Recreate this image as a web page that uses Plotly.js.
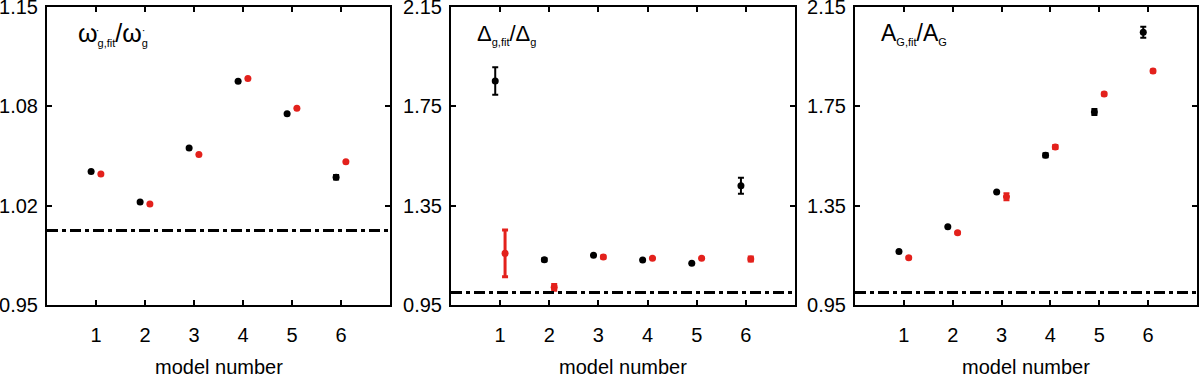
<!DOCTYPE html>
<html>
<head>
<meta charset="utf-8">
<script src="https://cdn.plot.ly/plotly-3.0.1.min.js"></script>
<style>html,body{margin:0;padding:0;background:#fff}#chart{width:1200px;height:381px}</style>
</head>
<body>
<div id="chart"></div>
<script>
// ---- data ----
const models = [1, 2, 3, 4, 5, 6];
const xTickLabels = ['1', '2', '3', '4', '5', '6'];

// panel 1: omega'_g,fit / omega'_g
const p1Black = [1.0396, 1.0192, 1.0553, 1.1002, 1.0784, 1.0357];
const p1BlackErr = [0, 0, 0, 0, 0, 0.0015];
const p1Red = [1.0380, 1.0178, 1.0510, 1.1020, 1.0820, 1.0461];
const p1RedErr = [0, 0, 0, 0, 0, 0];

// panel 2: Delta_g,fit / Delta_g
const p2Black = [1.852, 1.132, 1.150, 1.131, 1.118, 1.430];
const p2BlackErr = [0.055, 0.006, 0, 0, 0, 0.032];
const p2Red = [1.158, 1.021, 1.143, 1.138, 1.138, 1.135];
const p2RedErr = [0.094, 0.012, 0.004, 0, 0, 0.008];

// panel 3: A_G,fit / A_G
const p3Black = [1.165, 1.265, 1.405, 1.553, 1.727, 2.048];
const p3BlackErr = [0, 0, 0, 0.008, 0.012, 0.022];
const p3Red = [1.140, 1.241, 1.386, 1.586, 1.800, 1.892];
const p3RedErr = [0.004, 0.004, 0.014, 0.008, 0.006, 0.006];

const p1TickVals = [0.95, 1.0166667, 1.0833333, 1.15];
const p1TickText = ['0.95', '1.02', '1.08', '1.15'];
const p23TickVals = [0.95, 1.35, 1.75, 2.15];
const p23TickText = ['0.95', '1.35', '1.75', '2.15'];
const refLine = 1.0;

const S = s => '<sub><span style="font-size:11px">' + s + '</span></sub>';
const panelTitles = [
  'ω' + S('g,fit') + '/ω' + S('g'),
  'Δ' + S('g,fit') + '/Δ' + S('g'),
  'A' + S('G,fit') + '/A' + S('G')
];
const dotMark = '˙';
const xTitle = 'model number';

// ---- styles ----
const RED = '#e3211c';
const BLACK = '#000000';
const OFF = 0.1;
const FONT = 'Liberation Sans, Arial, Helvetica, sans-serif';

function series(vals, errs, color, dx, ax, thick) {
  return {
    type: 'scatter', mode: 'markers',
    x: models.map(m => m + dx), y: vals,
    xaxis: 'x' + ax, yaxis: 'y' + ax,
    marker: {color: color, size: 7},
    error_y: {type: 'data', array: errs, visible: true, color: color, thickness: thick, width: 3},
    showlegend: false, hoverinfo: 'skip'
  };
}

const data = [
  series(p1Black, p1BlackErr, BLACK, -OFF, '', 2),
  series(p1Red, p1RedErr, RED, OFF, '', 2),
  series(p2Black, p2BlackErr, BLACK, -OFF, '2', 2),
  series(p2Red, p2RedErr, RED, OFF, '2', 3),
  series(p3Black, p3BlackErr, BLACK, -OFF, '3', 2),
  series(p3Red, p3RedErr, RED, OFF, '3', 2)
];

const W = 1200, H = 381;
const xDomains = [[47 / W, 390 / W], [451 / W, 795 / W], [855 / W, 1197 / W]];
const yDomain = [1 - 305 / H, 1 - 7 / H];

function xAxis(i) {
  return {
    domain: xDomains[i], range: [0, 7], anchor: i === 0 ? 'y' : 'y' + (i + 1),
    tickvals: models, ticktext: xTickLabels,
    ticks: 'inside', ticklen: 5, tickwidth: 2, tickcolor: '#000',
    showline: true, linewidth: 2, linecolor: '#000', mirror: 'ticks',
    showgrid: false, zeroline: false,
    ticklabelstandoff: 11, ticklabeloverflow: 'allow',
    tickfont: {family: FONT, size: 20, color: '#000'},
    fixedrange: true
  };
}
function yAxis(i, range, tv, tt) {
  return {
    domain: yDomain, range: range, anchor: i === 0 ? 'x' : 'x' + (i + 1),
    tickvals: tv, ticktext: tt,
    ticks: 'inside', ticklen: 5, tickwidth: 2, tickcolor: '#000',
    showline: true, linewidth: 2, linecolor: '#000', mirror: 'ticks',
    showgrid: false, zeroline: false,
    ticklabelstandoff: 3, ticklabeloverflow: 'allow',
    tickfont: {family: FONT, size: 20, color: '#000'},
    fixedrange: true
  };
}

const shapes = ['x', 'x2', 'x3'].map((xa, i) => ({
  type: 'line', xref: xa + ' domain', yref: (i === 0 ? 'y' : 'y' + (i + 1)),
  x0: 0, x1: 1, y0: refLine, y1: refLine,
  line: {color: '#000', width: 3, dash: '11px,4px,4px,4px'}
}));

const titleX = [77, 476, 880];
const titleSize = [25, 22, 23];
const annotations = [];
panelTitles.forEach((t, i) => {
  annotations.push({
    text: t, xref: 'paper', yref: 'paper', x: titleX[i] / W, y: 1 - 34 / H,
    xanchor: 'left', yanchor: 'middle', align: 'left', showarrow: false, borderpad: 0,
    font: {family: FONT, size: titleSize[i], color: '#000'}
  });
  annotations.push({
    text: xTitle, xref: 'paper', yref: 'paper',
    x: (xDomains[i][0] + xDomains[i][1]) / 2, y: 1 - 367 / H,
    xanchor: 'center', yanchor: 'middle', showarrow: false,
    font: {family: FONT, size: 20, color: '#000'}
  });
});
// superscript dots on the omega symbols of panel 1
[98, 144].forEach(px => {
  annotations.push({
    text: dotMark, xref: 'paper', yref: 'paper', x: px / W, y: 1 - 34 / H,
    xanchor: 'center', yanchor: 'middle', showarrow: false,
    font: {family: FONT, size: 13, color: '#000'}
  });
});

const layout = {
  width: W, height: H,
  margin: {l: 0, r: 0, t: 0, b: 0},
  paper_bgcolor: '#fff', plot_bgcolor: '#fff',
  xaxis: xAxis(0), xaxis2: xAxis(1), xaxis3: xAxis(2),
  yaxis: yAxis(0, [0.95, 1.15], p1TickVals, p1TickText),
  yaxis2: yAxis(1, [0.95, 2.15], p23TickVals, p23TickText),
  yaxis3: yAxis(2, [0.95, 2.15], p23TickVals, p23TickText),
  shapes: shapes, annotations: annotations,
  showlegend: false
};

Plotly.newPlot('chart', data, layout, {displayModeBar: false, staticPlot: true});
</script>
</body>
</html>
